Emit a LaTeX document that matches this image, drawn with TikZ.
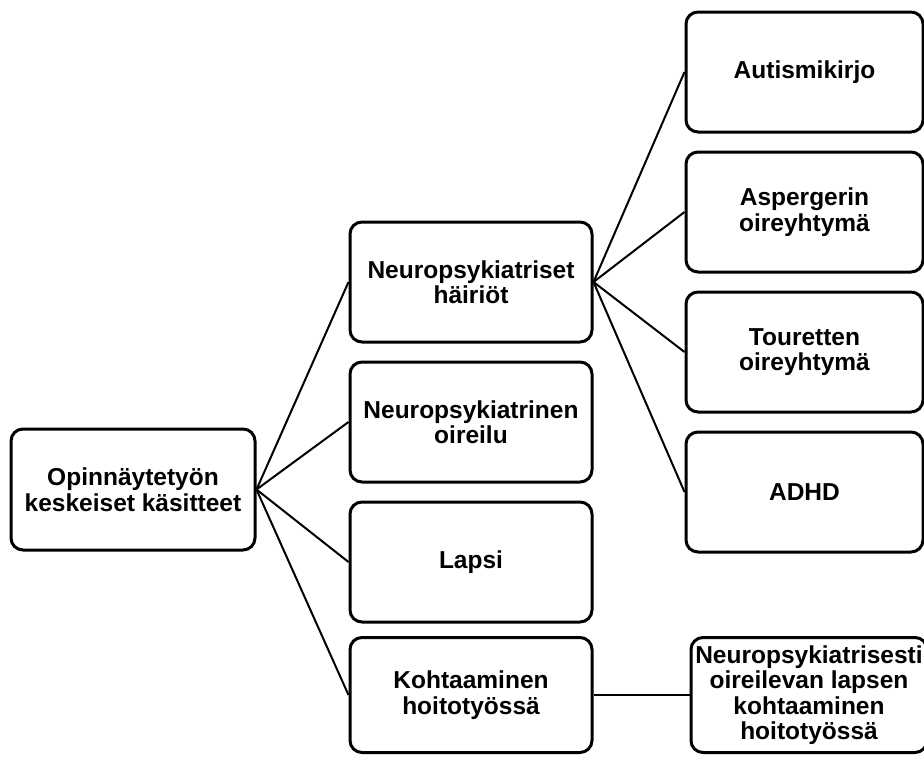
\documentclass[tikz,border=0pt]{standalone}
\usepackage{fontspec}
\setmainfont{Liberation Sans}
\usetikzlibrary{positioning}

\begin{document}
\begin{tikzpicture}[
  x=1pt, y=-1pt,
  font=\fontsize{24.5}{25.5}\selectfont\bfseries,
  box/.style={draw,line width=3pt,rounded corners=12pt,align=center,inner sep=1pt,minimum width=242pt,minimum height=120pt},
  link/.style={line width=2pt}
]
\useasboundingbox (0,0) rectangle (924,756);
% root
\node[box,minimum width=244pt,minimum height=121pt] (root) at (133,489.5) {Opinnäytetyön\\keskeiset käsitteet};
% middle column
\node[box] (hairiot) at (471,282) {Neuropsykiatriset\\häiriöt};
\node[box] (oireilu) at (471,422) {Neuropsykiatrinen\\oireilu};
\node[box] (lapsi) at (471,562) {Lapsi};
\node[box,minimum height=115pt] (kohtaaminen) at (471,695) {Kohtaaminen\\hoitotyössä};
% right column
\node[box,minimum width=237pt] (autismi) at (804.5,72) {Autismikirjo};
\node[box,minimum width=237pt] (asperger) at (804.5,212) {Aspergerin\\oireyhtymä};
\node[box,minimum width=237pt] (tourette) at (804.5,352) {Touretten\\oireyhtymä};
\node[box,minimum width=237pt] (adhd) at (804.5,492) {ADHD};
\node[box,minimum width=236pt,minimum height=115pt] (lapsenkoht) at (809,695) {Neuropsykiatrisesti\\oireilevan lapsen\\kohtaaminen\\hoitotyössä};
% connectors
\foreach \n in {hairiot,oireilu,lapsi,kohtaaminen}
  \draw[link] (root.east) -- (\n.west);
\foreach \n in {autismi,asperger,tourette,adhd}
  \draw[link] (hairiot.east) -- (\n.west);
\draw[link] (kohtaaminen) -- (lapsenkoht);
\end{tikzpicture}
\end{document}
